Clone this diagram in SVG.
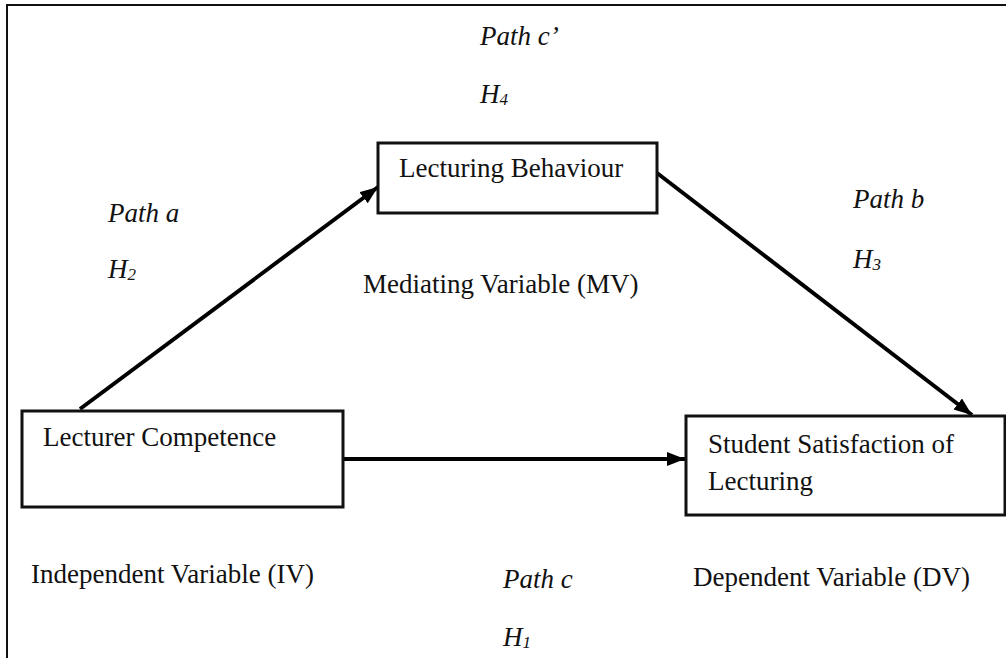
<svg xmlns="http://www.w3.org/2000/svg" width="1006" height="658" viewBox="0 0 1006 658">
<defs>
<style>
.t{font-family:"Liberation Serif","Times New Roman",serif;font-size:27px;fill:#111;}
.i{font-style:italic;}
.box{fill:#fff;stroke:#111;stroke-width:3;}
.con{stroke:#000;stroke-width:4;fill:none;}
</style>
<marker id="ah" markerUnits="userSpaceOnUse" markerWidth="20" markerHeight="16" refX="18" refY="7" orient="auto">
<path d="M0,0 L18,7 L0,14 Z" fill="#000"/>
</marker>
</defs>
<rect width="1006" height="658" fill="#fff"/>
<path d="M7,660 L7,5 L1010,5" fill="none" stroke="#111" stroke-width="2"/>
<g id="connectors">
<line class="con" x1="80" y1="409" x2="378" y2="187" marker-end="url(#ah)"/>
<line class="con" x1="657" y1="173" x2="972" y2="415" marker-end="url(#ah)"/>
<line class="con" x1="343" y1="459" x2="685" y2="459" marker-end="url(#ah)"/>
</g>
<g id="lecturing-behaviour">
<rect class="box" x="378" y="143" width="279" height="70"/>
<text class="t" x="399" y="177">Lecturing Behaviour</text>
</g>
<g id="lecturer-competence">
<rect class="box" x="22" y="411" width="321" height="96"/>
<text class="t" x="43" y="446">Lecturer Competence</text>
</g>
<g id="student-satisfaction">
<rect class="box" x="686" y="416" width="319" height="99"/>
<text class="t" x="708" y="453">Student Satisfaction of</text>
<text class="t" x="708" y="490">Lecturing</text>
</g>
<g id="labels">
<text class="t i" x="480" y="45">Path c’</text>
<text class="t i" x="480" y="103">H<tspan font-size="17" dy="2">4</tspan></text>
<text class="t i" x="108" y="222">Path a</text>
<text class="t i" x="108" y="278">H<tspan font-size="17" dy="2">2</tspan></text>
<text class="t i" x="853" y="208">Path b</text>
<text class="t i" x="853" y="268">H<tspan font-size="17" dy="2">3</tspan></text>
<text class="t i" x="503" y="588">Path c</text>
<text class="t i" x="503" y="646">H<tspan font-size="17" dy="2">1</tspan></text>
<text class="t" x="363" y="293">Mediating Variable (MV)</text>
<text class="t" x="31" y="583">Independent Variable (IV)</text>
<text class="t" x="693" y="586">Dependent Variable (DV)</text>
</g>
</svg>
